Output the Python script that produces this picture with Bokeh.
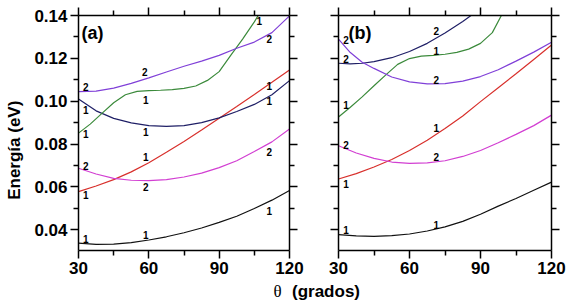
import math
from bokeh.plotting import figure
from bokeh.layouts import row, column
from bokeh.models import Range1d, LinearAxis, FixedTicker, NumeralTickFormatter, CustomLabelingPolicy
from bokeh.core.properties import value
from bokeh.embed import file_html
from bokeh.resources import INLINE

# ---------------- data ----------------
theta = [30, 37.5, 45, 52.5, 60, 67.5, 75, 82.5, 90, 97.5, 105, 112.5, 120]

# panel (a)
a_black = [0.0337, 0.0332, 0.0333, 0.0340, 0.0352, 0.0367, 0.0386, 0.0408, 0.0434, 0.0463, 0.0499, 0.0538, 0.0583]
a_red = [0.0578, 0.0604, 0.0634, 0.0670, 0.0713, 0.0762, 0.0812, 0.0865, 0.0920, 0.0975, 0.1031, 0.1088, 0.1146]
a_magenta = [0.0687, 0.0660, 0.0640, 0.0631, 0.0629, 0.0634, 0.0646, 0.0664, 0.0690, 0.0722, 0.0765, 0.0810, 0.0870]
a_navy = [0.1010, 0.0955, 0.0920, 0.0899, 0.0886, 0.0882, 0.0886, 0.0900, 0.0922, 0.0952, 0.0985, 0.1030, 0.1096]
a_purple = [0.1045, 0.1047, 0.1061, 0.1083, 0.1109, 0.1136, 0.1163, 0.1187, 0.1214, 0.1247, 0.1276, 0.1320, 0.1398]
a_green_theta = [30, 35, 40, 45, 50, 55, 60, 65, 70, 75, 80, 85, 90, 95, 100, 105, 108]
a_green = [0.0851, 0.0893, 0.0943, 0.0993, 0.1030, 0.1046, 0.1049, 0.1051, 0.1054, 0.1060, 0.1071, 0.1097, 0.1138, 0.1215, 0.1290, 0.1370, 0.1425]

# panel (b)
b_black = [0.0377, 0.0371, 0.0369, 0.0372, 0.0380, 0.0394, 0.0413, 0.0439, 0.0472, 0.0510, 0.0546, 0.0584, 0.0622]
b_red = [0.0637, 0.0662, 0.0693, 0.0728, 0.0770, 0.0818, 0.0872, 0.0931, 0.0998, 0.1063, 0.1128, 0.1195, 0.1262]
b_magenta = [0.0792, 0.0758, 0.0733, 0.0716, 0.0710, 0.0712, 0.0722, 0.0742, 0.0770, 0.0806, 0.0845, 0.0886, 0.0935]
b_purple_theta = [30, 35, 40, 45, 52.5, 60, 67.5, 75, 82.5, 90, 97.5, 105, 112.5, 120]
b_purple = [0.1290, 0.1227, 0.1182, 0.1153, 0.1113, 0.1090, 0.1081, 0.1082, 0.1094, 0.1115, 0.1147, 0.1187, 0.1229, 0.1275]
b_navy_theta = [30, 35, 40, 45, 52.5, 60, 67.5, 75, 82.5, 87.5]
b_navy = [0.1177, 0.1174, 0.1177, 0.1185, 0.1203, 0.1232, 0.1270, 0.1318, 0.1372, 0.1412]
b_green_theta = [30, 35, 40, 45, 50, 55, 60, 65, 70, 75, 80, 85, 90, 95, 100]
b_green = [0.0926, 0.0972, 0.1020, 0.1072, 0.1123, 0.1172, 0.1199, 0.1210, 0.1214, 0.1219, 0.1228, 0.1243, 0.1270, 0.1320, 0.1425]

# curve labels
a_lab_x = [33.1, 58.3, 111.4, 33.1, 33.1, 58.7, 58.7, 107.1, 111.4, 111.4, 58.7, 33.1, 58.7, 111.4, 33.1, 111.4, 33.1, 58.7]
a_lab_y = [0.1068, 0.1138, 0.1290, 0.0957, 0.0845, 0.1006, 0.0856, 0.1375, 0.1069, 0.1000,
           0.0738, 0.0699, 0.0598, 0.0765, 0.0560, 0.0486, 0.0359, 0.0374]
a_lab_t = ["2", "2", "2", "1", "1", "1", "1", "1", "1", "1", "1", "2", "2", "2", "1", "1", "1", "1"]

b_lab_x = [33.2, 33.2, 71.3, 71.3, 71.3, 33.2, 71.3, 33.2, 71.3, 33.2, 33.2, 71.3]
b_lab_y = [0.1285, 0.1197, 0.1329, 0.1233, 0.1099, 0.0980, 0.0876, 0.0795, 0.0741, 0.0614, 0.0397, 0.0420]
b_lab_t = ["2", "2", "2", "1", "2", "1", "1", "2", "2", "1", "1", "1"]

x_ticks = [30, 60, 90, 120]
x_minor = [45, 75, 105]
y_ticks = [0.04, 0.06, 0.08, 0.10, 0.12, 0.14]
y_minor = [0.05, 0.07, 0.09, 0.11, 0.13]

y_title = "Energía (eV)"
x_title_sym = "θ"
x_title_txt = "(grados)"

C_BLACK = "#111111"
C_RED = "#d8302c"
C_MAG = "#d23fd2"
C_NAVY = "#1f1f66"
C_GREEN = "#3b8a3b"
C_PURPLE = "#8040d8"

FONT = value("Liberation Sans")
H = 283


def style_axis(ax, labels):
    ax.axis_line_width = 1.5
    ax.axis_line_color = "black"
    ax.major_tick_line_width = 1.5
    ax.minor_tick_line_width = 1.5
    ax.major_tick_out = 8
    ax.major_tick_in = 0
    ax.minor_tick_out = 5
    ax.minor_tick_in = 0
    ax.major_label_standoff = 3
    ax.major_label_text_font = "Liberation Sans"
    ax.major_label_text_font_style = "bold"
    ax.major_label_text_color = "black"
    if labels:
        ax.major_label_text_font_size = "17px"
    else:
        ax.major_label_text_font_size = "1px"
        ax.major_label_policy = CustomLabelingPolicy(
            code="const ids = [...indices]; for (const i of ids) { indices.unset(i) } return indices")


def make_panel(width, bl, br, show_left, series, lab_x, lab_y, lab_t, tag, tag_x):
    p = figure(width=width, height=H, x_range=Range1d(30, 120), y_range=Range1d(0.0303, 0.14),
               output_backend="svg", toolbar_location=None,
               x_axis_location=None, y_axis_location=None,
               min_border_left=bl, min_border_right=br, min_border_top=13, min_border_bottom=33)
    p.grid.visible = False
    p.outline_line_color = None
    p.background_fill_color = "white"
    p.border_fill_color = "white"
    for loc, lab in (("below", True), ("above", False)):
        ax = LinearAxis(ticker=FixedTicker(ticks=x_ticks, minor_ticks=x_minor))
        style_axis(ax, lab)
        p.add_layout(ax, loc)
    for loc, lab in (("left", show_left), ("right", False)):
        ax = LinearAxis(ticker=FixedTicker(ticks=y_ticks, minor_ticks=y_minor),
                        formatter=NumeralTickFormatter(format="0.00"))
        style_axis(ax, lab)
        p.add_layout(ax, loc)
    for xs, ys, col in series:
        p.line(xs, ys, line_color=col, line_width=1.2)
    p.text(x=lab_x, y=lab_y, text=lab_t, text_font=FONT, text_font_style="bold",
           text_font_size="10px", text_align="center", text_baseline="middle", text_color="black")
    p.text(x=[tag_x], y=[0.1318], text=[tag], text_font=FONT, text_font_style="bold",
           text_font_size="18px", text_align="left", text_baseline="middle", text_color="black")
    return p


pa = make_panel(287, 52, 24, True,
                [(theta, a_black, C_BLACK), (theta, a_red, C_RED), (theta, a_magenta, C_MAG),
                 (theta, a_navy, C_NAVY), (a_green_theta, a_green, C_GREEN), (theta, a_purple, C_PURPLE)],
                a_lab_x, a_lab_y, a_lab_t, "(a)", 31.3)
pb = make_panel(254, 25, 16, False,
                [(theta, b_black, C_BLACK), (theta, b_red, C_RED), (theta, b_magenta, C_MAG),
                 (b_navy_theta, b_navy, C_NAVY), (b_green_theta, b_green, C_GREEN),
                 (b_purple_theta, b_purple, C_PURPLE)],
                b_lab_x, b_lab_y, b_lab_t, "(b)", 34.2)


def blank(w, h):
    f = figure(width=w, height=h, x_range=Range1d(0, w), y_range=Range1d(0, h),
               output_backend="svg", toolbar_location=None,
               x_axis_location=None, y_axis_location=None,
               min_border_left=0, min_border_right=0, min_border_top=0, min_border_bottom=0)
    f.grid.visible = False
    f.outline_line_color = None
    f.background_fill_color = "white"
    f.border_fill_color = "white"
    return f


yl = blank(26, H)
yl.text(x=[13.6], y=[H - 222], text=[y_title], angle=math.pi / 2, text_align="left",
        text_baseline="middle", text_font=FONT, text_font_style="bold", text_font_size="17px",
        text_color="black")

XH = 21
xl = blank(567, XH)
xl.text(x=[273], y=[XH - 7.6], text=[x_title_sym], text_align="left", text_baseline="middle",
        text_font=value("Liberation Serif"), text_font_size="17px", text_color="black")
xl.text(x=[291.5], y=[XH - 7.6], text=[x_title_txt], text_align="left", text_baseline="middle",
        text_font=FONT, text_font_style="bold", text_font_size="17px", text_color="black")

layout = column(row(yl, pa, pb), xl)
open("out.html", "w").write(file_html(layout, INLINE))
